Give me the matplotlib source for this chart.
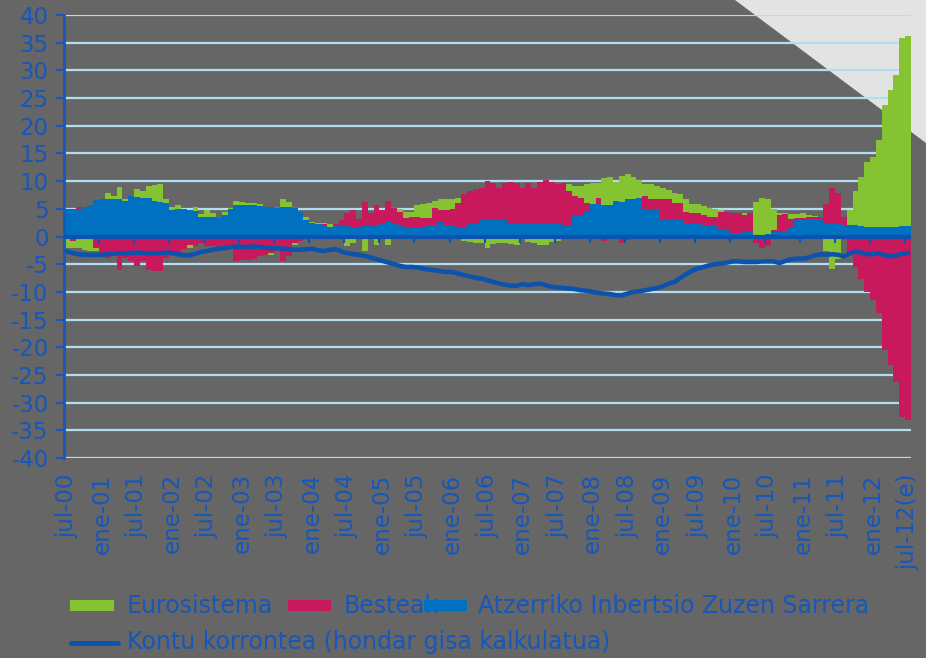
import numpy as np
import matplotlib.pyplot as plt
from matplotlib.patches import Polygon, Rectangle
from matplotlib.lines import Line2D

plt.rcParams['font.family'] = ['DejaVu Sans']
plt.rcParams['axes.unicode_minus'] = False

# monthly data, jul-00 .. jul-12(e)
tick_labels = ['jul-00', 'ene-01', 'jul-01', 'ene-02', 'jul-02', 'ene-03', 'jul-03',
               'ene-04', 'jul-04', 'ene-05', 'jul-05', 'ene-06', 'jul-06', 'ene-07',
               'jul-07', 'ene-08', 'jul-08', 'ene-09', 'jul-09', 'ene-10', 'jul-10',
               'ene-11', 'jul-11', 'ene-12', 'jul-12(e)']

# Atzerriko Inbertsio Zuzen Sarrera
aizs = [4.9, 4.9, 4.9, 5.3, 5.6, 6.6, 6.7, 6.7, 6.8, 6.8, 6.4, 7.3,
        7.2, 7.0, 6.9, 6.5, 6.2, 6.0, 4.7, 4.9, 4.9, 4.8, 4.6, 3.6,
        3.6, 3.6, 3.3, 3.8, 4.9, 5.7, 5.7, 5.6, 5.6, 5.5, 5.3, 5.3,
        5.2, 5.4, 5.3, 5.1, 4.5, 2.9, 2.4, 2.2, 1.9, 1.8, 1.9, 1.9,
        1.9, 1.7, 1.8, 1.9, 1.9, 1.9, 2.4, 2.7, 2.4, 2.1, 1.8, 1.7,
        1.7, 1.8, 2.0, 2.1, 2.7, 2.1, 2.0, 1.8, 1.7, 2.3, 2.3, 3.0,
        3.0, 3.0, 3.0, 2.9, 2.3, 2.3, 2.2, 2.3, 2.3, 2.4, 2.4, 2.2,
        2.3, 1.9, 1.9, 3.8, 3.8, 4.4, 5.9, 5.9, 5.6, 5.6, 6.4, 6.2,
        6.7, 6.7, 6.9, 4.8, 4.8, 4.8, 3.2, 3.2, 3.2, 3.1, 2.5, 2.5,
        2.4, 2.1, 2.1, 2.0, 1.2, 1.2, 0.6, 0.6, 0.9, 0.9, 0.3, 0.3,
        0.4, 0.9, 0.9, 1.0, 1.5, 2.9, 3.0, 3.2, 3.2, 3.0, 2.4, 2.4,
        2.5, 2.1, 2.0, 2.1, 1.9, 1.8, 1.8, 1.8, 1.8, 1.8, 1.8, 1.9,
        1.9]

# Besteak
besteak = [0, -0.8, 0.4, 0, 0, -2.0, -3.6, -3.9, -3.6, -6.0, -3.8, -4.5,
           -5.3, -4.5, -6.0, -6.3, -6.3, -3.8, -3.0, -3.0, -2.3, -1.5, -1.8, -1.2,
           -1.8, -1.8, -2.1, -1.8, -2.1, -4.5, -4.2, -4.2, -4.0, -3.6, -3.3, -3.0,
           -2.7, -4.5, -3.6, -1.2, -0.8, 0, 0, 0, 0.3, 0, 0.3, 1.1,
           2.3, 3.1, 1.4, 4.3, 2.3, 3.7, 2.4, 3.8, 2.8, 2.3, 1.5, 1.9,
           1.9, 1.5, 1.4, 3.1, 2.1, 2.7, 3.0, 4.3, 5.9, 5.9, 6.3, 5.8,
           7.0, 6.6, 5.8, 6.7, 7.5, 7.4, 6.6, 7.3, 6.5, 7.4, 7.8, 7.6,
           7.1, 7.7, 6.3, 3.5, 3.2, 1.7, 0, 1.1, -0.9, 0, -0.5, -1.2,
           -0.6, 0, 0, 2.5, 1.9, 1.9, 3.5, 3.5, 2.9, 3.0, 1.9, 1.7,
           1.8, 1.8, 1.5, 1.6, 3.3, 3.2, 3.6, 3.6, 3.0, 3.3, -1.2, -2.1,
           -1.8, 0.2, 3.0, 3.0, 1.6, 0.4, 0.3, 0.4, 0.3, 0.5, 3.4, 6.4,
           5.3, 1.5, -3.0, -5.5, -7.6, -10.1, -11.5, -13.9, -20.5, -23.2, -26.3, -32.6,
           -33.2]

# Eurosistema
eurosistema = [-2.1, -1.2, -2.1, -2.5, -2.6, -0.7, 0, 1.2, 0.5, 2.1, 0.3, 0,
               1.3, 1.2, 2.2, 2.8, 3.2, 0.7, 0.6, 0.8, 0, -0.5, 0.8, 0.4,
               1.1, 0.6, 0.1, 0.6, 0.3, 0.8, 0.5, 0.4, 0.4, 0.3, 0, -0.3,
               0, 1.3, 0.9, -0.3, 0, 0.6, 0.2, 0.3, 0.2, 0.5, 0, 0,
               -1.8, -1.2, 0, -2.7, 0, -1.5, 0, -1.6, 0, 0.5, 1.2, 0.9,
               2.0, 2.5, 2.7, 1.2, 1.9, 1.9, 1.8, 0.9, -0.9, -1.0, -1.2, -1.2,
               -2.0, -1.3, -1.2, -1.2, -1.3, -1.5, -0.5, -1.0, -1.2, -1.5, -1.5, -1.0,
               -0.8, 0, 1.2, 1.9, 2.2, 3.3, 3.8, 2.7, 5.0, 5.2, 3.5, 4.8,
               4.5, 4.1, 3.3, 2.1, 2.7, 2.4, 2.1, 1.7, 1.8, 1.5, 2.4, 1.7,
               1.6, 1.6, 1.6, 1.4, 0.2, 0.1, 0, 0, 0.3, 0, 5.9, 6.7,
               6.3, 3.9, 0.3, 0.3, 0.9, 0.8, 0.9, 0.3, 0.2, 0.1, -2.7, -5.8,
               -4.0, -0.5, 2.8, 6.2, 8.8, 11.6, 12.6, 15.6, 22.0, 24.7, 27.4, 33.9,
               34.3]

# Kontu korrontea (hondar gisa kalkulatua)
kontu = [-2.7, -3.0, -3.2, -3.3, -3.3, -3.3, -3.3, -3.2, -3.1, -3.0, -3.0, -3.0,
         -2.9, -3.0, -3.0, -3.0, -3.0, -2.9, -3.0, -3.2, -3.4, -3.4, -3.1, -2.8,
         -2.6, -2.4, -2.2, -2.1, -1.9, -1.8, -1.9, -1.9, -1.8, -1.9, -2.0, -2.1,
         -2.1, -2.2, -2.3, -2.4, -2.4, -2.3, -2.2, -2.5, -2.6, -2.4, -2.3, -2.7,
         -3.0, -3.2, -3.3, -3.5, -3.8, -4.1, -4.4, -4.7, -5.0, -5.3, -5.5, -5.5,
         -5.6, -5.8, -6.0, -6.1, -6.3, -6.4, -6.4, -6.7, -7.0, -7.2, -7.5, -7.6,
         -7.9, -8.2, -8.5, -8.7, -8.9, -8.9, -8.6, -8.8, -8.6, -8.5, -8.8, -9.1,
         -9.2, -9.3, -9.4, -9.5, -9.7, -9.8, -10.0, -10.2, -10.3, -10.4, -10.6, -10.6,
         -10.3, -10.0, -9.9, -9.7, -9.5, -9.3, -9.0, -8.5, -8.2, -7.5, -6.8, -6.2,
         -5.8, -5.5, -5.2, -5.0, -4.9, -4.7, -4.5, -4.5, -4.6, -4.6, -4.6, -4.5,
         -4.5, -4.5, -4.8, -4.4, -4.1, -4.0, -4.0, -3.8, -3.4, -3.2, -3.3, -3.2,
         -3.3, -3.6, -3.1, -2.7, -2.9, -3.2, -3.2, -3.0, -3.4, -3.6, -3.4, -3.1,
         -3.0]

bg = '#666666'
c_green = '#86c332'
c_red = '#c9195d'
c_blue = '#0070c0'
c_line = '#0b53ad'
c_txt = '#1557bb'
c_grid = '#b3def2'

W, H = 926, 658
fig = plt.figure(figsize=(W / 100, H / 100), dpi=100, facecolor=bg)
fig.add_artist(Polygon([(735 / W, 1), (1, 1), (1, 1 - 143 / H)], closed=True,
                       transform=fig.transFigure, facecolor='#e3e3e3',
                       edgecolor='none', zorder=0))

ax = fig.add_axes([64 / W, 1 - 458 / H, (911 - 64) / W, (458 - 15) / H])
ax.set_facecolor('none')

a = np.array(aizs)
b = np.array(besteak)
e = np.array(eurosistema)
x = np.arange(len(a))

b_bot = np.where(b >= 0, a, 0)
e_bot = np.where(e >= 0, a + np.clip(b, 0, None), np.clip(b, None, 0))

ax.bar(x, a, width=1.0, color=c_blue, lw=0, zorder=2)
ax.bar(x, b, width=1.0, bottom=b_bot, color=c_red, lw=0, zorder=2)
ax.bar(x, e, width=1.0, bottom=e_bot, color=c_green, lw=0, zorder=2)
ax.plot(x, kontu, color=c_line, lw=3.3, zorder=5, solid_capstyle='round')

ax.axhline(0, color=c_line, lw=3, zorder=4)
ax.vlines(np.arange(5.5, 144, 6), -1.1, 0, color=c_line, lw=1.5, zorder=4)

ax.set_xlim(-0.5, 144.5)
ax.set_ylim(-40, 40)
ax.set_yticks(range(-40, 41, 5))
ax.set_xticks(np.arange(0, 145, 6))
ax.set_xticklabels(tick_labels, rotation=90)
ax.yaxis.grid(True, color=c_grid, lw=1.6)
ax.set_axisbelow(True)
for s in ['top', 'right', 'bottom']:
    ax.spines[s].set_visible(False)
ax.spines['left'].set_color(c_txt)
ax.spines['left'].set_linewidth(2)
ax.tick_params(axis='y', colors=c_txt, labelsize=16.5, length=6, width=1.5, pad=5)
ax.tick_params(axis='x', length=0, pad=11, labelcolor=c_txt, labelsize=16.5)

# legend drawn by hand to keep the original layout
def fx(px):
    return px / W

def fy(py):
    return 1 - py / H

for x0, x1, col in [(70, 114, c_green), (288, 331, c_red), (424, 467, c_blue)]:
    fig.add_artist(Rectangle((fx(x0), fy(611)), fx(x1 - x0), 11 / H,
                             transform=fig.transFigure, facecolor=col,
                             edgecolor='none', zorder=5))
for px, txt in [(127, 'Eurosistema'), (344, 'Besteak'),
                (478, 'Atzerriko Inbertsio Zuzen Sarrera')]:
    fig.text(fx(px), fy(606), txt, color=c_txt, fontsize=17, va='center', ha='left', zorder=3)
fig.add_artist(Line2D([fx(71), fx(118)], [fy(643), fy(643)], transform=fig.transFigure,
                      color=c_line, lw=3.5, solid_capstyle='round'))
fig.text(fx(127), fy(642), 'Kontu korrontea (hondar gisa kalkulatua)', color=c_txt,
         fontsize=17, va='center', ha='left')

fig.savefig('out.png', dpi=100, facecolor=bg)
